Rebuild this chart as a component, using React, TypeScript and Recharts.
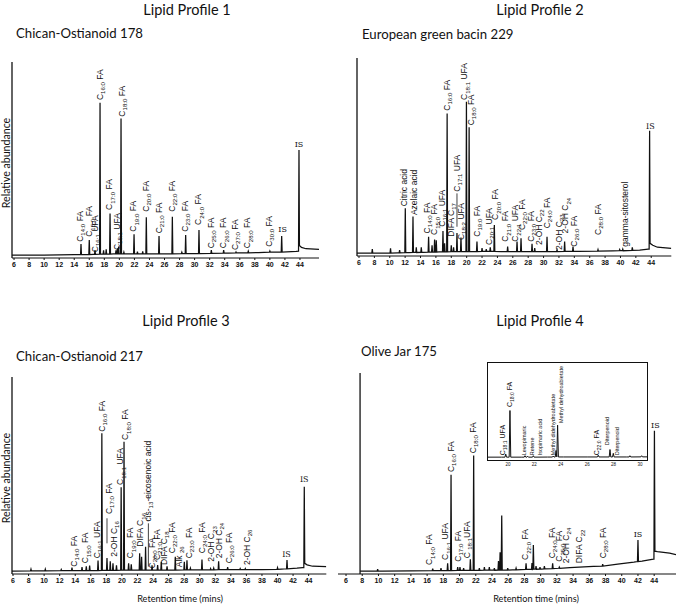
import { ComposedChart, Line, Scatter, XAxis, YAxis, ReferenceLine } from 'recharts'

// ---- shared ----
const TICKS = [6, 8, 10, 12, 14, 16, 18, 20, 22, 24, 26, 28, 30, 32, 34, 36, 38, 40, 42, 44]
const INSET_TICKS = [20, 22, 24, 26, 28, 30]

type Peak = [number, number, number, number?] // rt, apex, foot, right foot
type Lbl = [number, number, string] // rt, label bottom, text (_{..} = subscript)

// ---- Lipid Profile 1 ----
const p1Base: [number, number][] = [[5.73, 0], [10, 0], [14, 0.2], [16.5, 0.4], [19.2, 0.6], [22.8, 0.6], [26, 0.7], [29.5, 0.8], [34.5, 1], [38.5, 1.3], [43.5, 1.9], [44.2, 4], [44.8, 3.3], [46.53, 3]]
const p1Peaks: Peak[] = [
  [14.9, 5.7, 0.2], [16.0, 7.8, 0.3], [16.76, 2.6, 0.4], [17.43, 78.9, 0.5], [17.9, 2.5, 0.5], [18.25, 3, 0.5],
  [18.76, 21.6, 0.5], [19.55, 2.5, 0.6], [19.75, 3.5, 0.6], [19.9, 4.5, 0.6], [20.22, 70.8, 0.6], [20.6, 1.5, 0.6],
  [21.95, 10.8, 0.6], [22.4, 1.8, 0.6], [23.1, 2, 0.6], [23.58, 19.6, 0.6], [25.27, 9.9, 0.7], [27.04, 19.9, 0.7],
  [28.3, 1.5, 0.8], [28.81, 10.4, 0.8], [30.58, 13, 0.8], [32.22, 2.6, 0.9], [33.86, 2.6, 1], [35.5, 1.6, 1.1],
  [37.13, 2, 1.2], [40.0, 2.1, 1.5], [41.57, 9.9, 1.6], [43.87, 54.4, 2, 5],
]
const p1Labels: Lbl[] = [
  [14.77, 6.9, 'C_{14:0} FA'], [16.0, 9.5, 'C_{15:0} FA'], [16.76, 1.5, 'C_{16:1} UFA'], [17.43, 80.3, 'C_{16:0} FA'],
  [18.66, 23.4, 'C_{17:0} FA'], [19.64, 2.6, 'C_{18:1} UFA'], [20.31, 71.7, 'C_{18:0} FA'], [21.86, 12.1, 'C_{19:0} FA'],
  [23.54, 22.5, 'C_{20:0} FA'], [25.27, 11.3, 'C_{21:0} FA'], [27.0, 22.5, 'C_{22:0} FA'], [28.72, 12.1, 'C_{23:0} FA'],
  [30.49, 15.6, 'C_{24:0} FA'], [32.18, 3.5, 'C_{25:0} FA'], [33.81, 3.5, 'C_{26:0} FA'], [35.37, 2.6, 'C_{27:0} FA'],
  [37.0, 3.5, 'C_{28:0} FA'], [39.84, 4.3, 'C_{30:0} FA'],
]
const p1Is: [number, number][] = [[41.7, 12.1], [43.87, 55.8]]

// ---- Lipid Profile 2 ----
const p2Base: [number, number][] = [[5.74, 0], [9, 0], [11, 0.1], [12.5, 0.2], [14.4, 0.4], [16.4, 0.6], [19.6, 0.8], [22.2, 0.9], [24.5, 0.8], [27.6, 0.8], [30, 0.8], [34.5, 0.9], [39, 1.1], [42.5, 1.5], [43.6, 2], [44.2, 4], [44.8, 3], [46.61, 2.4]]
const p2Peaks: Peak[] = [
  [7.73, 2, 0], [10.1, 2.5, 0], [11.28, 1.5, 0.1], [12.02, 23, 0.2], [13.02, 18.7, 0.3], [13.45, 3, 0.3], [14.1, 3, 0.4],
  [15.05, 8.4, 0.5], [15.5, 4, 0.5], [15.83, 7, 0.5], [16.05, 6.5, 0.5], [16.92, 11.3, 0.6], [17.13, 5, 0.6],
  [17.46, 71.6, 0.6], [18.0, 4, 0.7], [18.3, 3, 0.7], [18.74, 10.3, 0.7], [19.26, 8, 0.8], [19.97, 77.6, 0.8],
  [20.32, 64.5, 0.8], [21.34, 5.9, 0.8], [22.0, 2.5, 0.9], [22.55, 2, 0.9], [23.07, 3, 0.9], [23.6, 14.4, 0.9],
  [25.33, 3.3, 0.8], [26.55, 5.9, 0.8], [27.07, 7.6, 0.8], [28.5, 4.7, 0.8], [28.85, 2.5, 0.8], [30.45, 8.4, 0.8],
  [31.75, 1.6, 0.8], [32.74, 5.9, 0.9], [33.83, 3.3, 0.9], [37.08, 1.8, 1], [39.9, 1.8, 1.2], [40.3, 2, 1.2],
  [41.54, 3, 1.4], [43.79, 62.7, 2, 5],
]
const p2Labels: Lbl[] = [
  [11.89, 24, 'Citric acid'], [13.1, 19.5, 'Azelaic acid'], [14.84, 10.1, 'C_{14:0} FA'], [15.79, 9.3, 'C_{15:0} FA'],
  [16.79, 13.5, 'C_{16:1} UFA'], [17.44, 73, 'C_{16:0} FA'], [17.96, 8.4, 'DIFA C_{17}'], [18.74, 31.5, 'C_{17:1} UFA'],
  [19.26, 6.7, 'C_{18:2} UFA'], [19.69, 78.5, 'C_{18:1} UFA'], [20.56, 65.5, 'C_{18:0} FA'], [21.34, 8.4, 'C_{19:0} FA'],
  [22.85, 4.2, 'C_{20:1} UFA'], [23.72, 17, 'C_{20:0} FA'], [25.02, 5.8, 'C_{21:0} FA'], [26.33, 5.8, 'C_{22:1} UFA'],
  [27.2, 11.8, 'C_{22:0} FA'], [28.36, 5.8, 'C_{23:0} FA'], [29.36, 4.2, '2-OH C_{22}'], [30.45, 12.7, 'C_{24:0} FA'],
  [31.96, 1.6, '2-OH C_{23}'], [32.83, 10.1, '2-OH C_{24}'], [33.91, 3.3, 'C_{26:0} FA'], [37.08, 9.3, 'C_{28:0} FA'],
  [40.54, 3.3, 'gamma-sitosterol'],
]
const p2Is: [number, number][] = [[43.88, 63.5]]
const p2Leads: [number, number, number][] = [[18.74, 30.6, 13.5]]

// ---- Lipid Profile 3 ----
const p3Base: [number, number][] = [[5.87, 0], [9, 0.1], [12.8, 0.2], [16.4, 0.3], [21.7, 0.5], [26, 0.5], [29.5, 0.6], [34.5, 0.7], [38, 0.8], [40.5, 1], [42.5, 1.5], [43.2, 1.8], [43.8, 3.2], [44.5, 2.5], [46.27, 2.3]]
const p3Peaks: Peak[] = [
  [8.31, 1, 0.1], [10.15, 1, 0.1], [12.2, 0.8, 0.2], [13.58, 1.8, 0.2], [14.87, 2, 0.2], [15.42, 2.5, 0.3],
  [15.85, 2.8, 0.3], [16.93, 5.5, 0.3], [17.42, 71, 0.4], [18.08, 6.7, 0.4], [18.5, 5, 0.4], [18.85, 4, 0.4],
  [19.3, 3, 0.4], [19.9, 43.2, 0.5], [20.27, 66.7, 0.5], [20.86, 4, 0.5], [21.2, 3.5, 0.5], [22.28, 9.2, 0.5],
  [22.53, 7.4, 0.5], [23.04, 12.5, 0.5], [23.87, 3, 0.5], [24.59, 3.1, 0.5], [25.06, 4.8, 0.5], [25.8, 2.5, 0.5],
  [26.86, 7.4, 0.5], [28.02, 4.8, 0.6], [28.36, 5.6, 0.6], [28.8, 1.5, 0.6], [30.29, 6, 0.6], [31.4, 1.3, 0.6],
  [31.8, 1.5, 0.6], [32.43, 5, 0.7], [33.59, 2, 0.7], [35.2, 1.3, 0.7], [35.86, 1.3, 0.7], [40.0, 1.8, 0.9],
  [41.22, 5.7, 1.2], [43.44, 43.5, 1.8, 4],
]
const p3Labels: Lbl[] = [
  [13.79, 2.3, 'C_{14:0} FA'], [15.29, 4, 'C_{15:0} FA'], [16.8, 6.6, 'C_{16:1} UFA'], [17.44, 71.8, 'C_{16:0} FA'],
  [18.29, 29.4, 'C_{17:0} FA'], [18.93, 7.4, '2-OH C_{16}'], [19.79, 44.4, 'C_{18:1} UFA'], [20.43, 67.5, 'C_{18:0} FA'],
  [21.08, 6.6, 'C_{19:0} FA'], [22.36, 12.6, 'DIFA C_{16}'], [23.3, 25.5, 'cis-_{13}-eicosenoic acid'],
  [23.87, 1.4, 'C_{20:0} FA'], [24.51, 5.7, 'C_{21:0} FA'], [25.36, 3.1, 'DIFA C_{18}'], [26.44, 9.2, 'C_{22:0} FA'],
  [27.29, 2, 'Alk _{26}'], [28.57, 6.6, 'C_{23:0} FA'], [30.29, 9.2, 'C_{24:0} FA'], [31.49, 4.8, '2-OH C_{23}'],
  [32.43, 6.6, '2-OH C_{24}'], [33.71, 4, 'C_{26:0} FA'], [36.07, 3.1, '2-OH C_{26}'],
]
const p3Is: [number, number][] = [[41.16, 7.4], [43.44, 46]]
const p3Leads: [number, number, number][] = [[18.08, 27.2, 14.3], [23.4, 24.6, 2.3]]

// ---- Lipid Profile 4 ----
const p4Base: [number, number][] = [[7.73, 0], [10.5, 0], [14, 0.1], [17.3, 0.2], [20.2, 0.3], [23.4, 0.4], [26.5, 0.6], [30.1, 1], [33.6, 1.7], [36.5, 2.3], [39.5, 3.5], [41.5, 4.5], [42.5, 5], [43.9, 6], [44.4, 9.8], [45.9, 9], [46.69, 8.3]]
const p4Peaks: Peak[] = [
  [9.9, 1, 0], [16.69, 1.2, 0.2], [17.71, 1.5, 0.2], [18.53, 3.9, 0.2], [18.95, 48.6, 0.2], [19.77, 2, 0.3],
  [20.05, 2, 0.3], [20.5, 1.5, 0.3], [21.33, 5.9, 0.3], [21.74, 58.3, 0.3], [22.44, 1.5, 0.3], [23.06, 2, 0.4],
  [23.67, 2, 0.4], [24.29, 1.5, 0.4], [24.8, 5, 0.5], [25.0, 9.5, 0.5], [25.2, 28, 0.5], [25.94, 1.5, 0.5],
  [26.97, 1.5, 0.6], [28.2, 3.9, 0.8], [28.93, 4, 0.8], [29.1, 13.1, 0.9], [29.43, 2.5, 0.9], [29.92, 2, 1],
  [30.46, 2.5, 1.1], [31.48, 3.9, 1.2], [32.3, 2, 1.4], [37.65, 3.5, 2.5], [42.0, 15.7, 4.8], [44.03, 70.8, 6, 10],
]
const p4Labels: Lbl[] = [
  [16.27, 3, 'C_{14:0} FA'], [18.25, 5.6, 'C_{16:1} UFA'], [18.95, 50, 'C_{16:0} FA'], [19.77, 4.7, 'C_{17:0} FA'],
  [20.88, 6.4, 'C _{18:1}UFA'], [21.62, 59.5, 'C_{18:0} FA'], [28.1, 5.6, 'C_{22:0} FA'], [31.4, 6.4, 'C_{24:0} FA'],
  [32.3, 4.7, 'C_{25:0} FA'], [33.13, 3.9, '2-OH C_{24}'], [34.77, 3.9, 'DIFA C_{22}'], [37.65, 6.4, 'C_{28:0} FA'],
]
const p4Is: [number, number][] = [[42.0, 17.3], [44.15, 72.2]]

// ---- Lipid Profile 4 inset ----
const insetBase: [number, number][] = [[18.41, 0], [19.5, 0], [21, 0], [23, 0.1], [24.2, 0.2], [26, 0.2], [29, 0.2], [30.61, 0.3]]
const insetPeaks: Peak[] = [
  [19.83, 3.2, 0], [20.15, 49, 0], [21.29, 1.5, 0], [21.49, 1, 0], [21.92, 1.5, 0], [23.43, 1.2, 0.1],
  [23.64, 7, 0.2], [23.76, 33.6, 0.2], [26.84, 2, 0.2], [27.73, 8, 0.2], [27.98, 4, 0.2], [29.24, 1.5, 0.2], [30.13, 1.5, 0.3],
]
const insetFaLabels: Lbl[] = [[19.55, 2, 'C_{18:1} UFA'], [20.15, 52.6, 'C_{18:0} FA'], [26.74, 2, 'C_{22:0} FA']]
const insetLabels: Lbl[] = [
  [21.21, 2, 'Levopimaric'], [21.82, 2, 'Retene'], [22.42, 2, 'Isopimaric acid'], [23.41, 2, 'Methyl didehydroabietate'],
  [24.02, 35.8, 'Methyl dehydroabietate'], [27.5, 12.6, 'Diterpenoid'], [28.26, 2, 'Diterpenoid'],
]

const INK = '#111'
const SANS = 'Liberation Sans, Arial, sans-serif'
const TITLE_FONT = 'Lato, "Open Sans", sans-serif'

function buildTrace(base: [number, number][], peaks: Peak[]) {
  const pts = base.map(([t, v]) => ({ t, v }))
  peaks.forEach(([t, top, foot, footR]) => {
    pts.push({ t: t - 0.06, v: foot }, { t, v: top }, { t: t + 0.06, v: footR ?? foot })
  })
  return pts.sort((a, b) => a.t - b.t)
}

function splitSub(s: string) {
  const out: { s: string; sub: boolean }[] = []
  s.split(/(_\{[^}]*\})/).forEach((p) => {
    if (!p) return
    if (p.startsWith('_{')) out.push({ s: p.slice(2, -1), sub: true })
    else out.push({ s: p, sub: false })
  })
  return out
}

const rotLabel = (fs: number) => (props: any) => {
  const { cx, cy, payload } = props
  if (cx == null || cy == null) return <g />
  const x = cx + fs * 0.36
  const sh = fs * 0.28
  let prevSub = false
  return (
    <text x={x} y={cy} transform={`rotate(-90 ${x} ${cy})`} fontSize={fs} fontFamily={SANS} fill={INK}>
      {splitSub(payload.s).map((p, i) => {
        const dy = p.sub ? (prevSub ? 0 : sh) : prevSub ? -sh : 0
        prevSub = p.sub
        return (
          <tspan key={i} dy={dy} fontSize={p.sub ? fs * 0.72 : fs}>
            {p.s}
          </tspan>
        )
      })}
    </text>
  )
}

const isLabel = (props: any) => {
  const { cx, cy } = props
  if (cx == null || cy == null) return <g />
  return (
    <text x={cx} y={cy} textAnchor="middle" fontSize={8} fontFamily="DejaVu Serif, serif" fill={INK}>
      IS
    </text>
  )
}

type PanelProps = {
  x: number
  y: number
  w: number
  h: number
  domain: [number, number]
  yLine: number
  base: [number, number][]
  peaks: Peak[]
  labels: Lbl[]
  isPos: [number, number][]
  leads?: [number, number, number][]
}

const ML = 8
const MR = 8
const MT = 16
const XH = 22

function Panel({ x, y, w, h, domain, yLine, base, peaks, labels, isPos, leads = [] }: PanelProps) {
  const trace = buildTrace(base, peaks)
  const labelRows = labels.map(([t, v, s]) => ({ t, v, s }))
  const isRows = isPos.map(([t, v]) => ({ t, v }))
  return (
    <div style={{ position: 'absolute', left: x - ML, top: y - MT }}>
      <ComposedChart width={w + ML + MR} height={h + MT + XH} data={trace} margin={{ top: MT, right: MR, left: ML, bottom: 0 }}>
        <XAxis
          dataKey="t"
          type="number"
          domain={domain}
          allowDataOverflow
          ticks={TICKS}
          interval={0}
          height={XH}
          tickSize={2}
          tickMargin={2}
          axisLine={{ stroke: INK, strokeWidth: 1.2 }}
          tickLine={{ stroke: INK }}
          tick={{ fontSize: 7, fontWeight: 700, fill: INK, fontFamily: SANS }}
        />
        <YAxis dataKey="v" type="number" domain={[-1.5, 100]} allowDataOverflow hide />
        <ReferenceLine segment={[{ x: yLine, y: -1.5 }, { x: yLine, y: 100 }]} stroke={INK} strokeWidth={1.3} ifOverflow="visible" />
        {leads.map(([t, a, b], i) => (
          <ReferenceLine key={i} segment={[{ x: t, y: a }, { x: t, y: b }]} stroke={INK} strokeWidth={0.8} ifOverflow="visible" />
        ))}
        <Line dataKey="v" type="linear" stroke={INK} strokeWidth={1.25} dot={false} activeDot={false} isAnimationActive={false} />
        <Scatter data={labelRows} dataKey="v" shape={rotLabel(8.5)} isAnimationActive={false} />
        <Scatter data={isRows} dataKey="v" shape={isLabel} isAnimationActive={false} />
      </ComposedChart>
    </div>
  )
}

function Inset() {
  const trace = buildTrace(insetBase, insetPeaks)
  const fa = insetFaLabels.map(([t, v, s]) => ({ t, v, s }))
  const small = insetLabels.map(([t, v, s]) => ({ t, v, s }))
  const IM = 4
  return (
    <>
      <div style={{ position: 'absolute', left: 487, top: 362, width: 161, height: 99, border: `1px solid ${INK}`, boxSizing: 'border-box', background: '#fff' }} />
      <div style={{ position: 'absolute', left: 487 - IM, top: 362 - IM }}>
        <ComposedChart width={161 + 2 * IM} height={98 + IM + 10} data={trace} margin={{ top: IM, right: IM, left: IM, bottom: 0 }}>
          <XAxis
            dataKey="t"
            type="number"
            domain={[18.41, 30.61]}
            allowDataOverflow
            ticks={INSET_TICKS}
            interval={0}
            height={10}
            tickSize={1}
            tickMargin={2}
            axisLine={false}
            tickLine={{ stroke: INK }}
            tick={{ fontSize: 4.5, fill: INK, fontFamily: SANS }}
          />
          <YAxis dataKey="v" type="number" domain={[-3, 100]} allowDataOverflow hide />
          <Line dataKey="v" type="linear" stroke={INK} strokeWidth={1} dot={false} activeDot={false} isAnimationActive={false} />
          <Scatter data={fa} dataKey="v" shape={rotLabel(7)} isAnimationActive={false} />
          <Scatter data={small} dataKey="v" shape={rotLabel(5.5)} isAnimationActive={false} />
        </ComposedChart>
      </div>
    </>
  )
}

function Txt({ x, y, size, children, rotate = 0, align = 'center' }: { x: number; y: number; size: number; children: any; rotate?: number; align?: 'center' | 'left' }) {
  const tx = align === 'center' ? '-50%' : '0'
  return (
    <div
      style={{
        position: 'absolute',
        left: x,
        top: y,
        transform: `translate(${tx}, -50%) rotate(${rotate}deg)`,
        whiteSpace: 'nowrap',
        lineHeight: 1.2,
        fontSize: size,
        fontFamily: TITLE_FONT,
        color: INK,
      }}
    >
      {children}
    </div>
  )
}

export default function App() {
  return (
    <div style={{ position: 'absolute', left: 0, top: 0, width: 676, height: 605, overflow: 'hidden', background: '#fff' }}>
      <Txt x={187} y={10} size={14.5}>Lipid Profile 1</Txt>
      <Txt x={540} y={10} size={14.5}>Lipid Profile 2</Txt>
      <Txt x={186} y={321} size={14.5}>Lipid Profile 3</Txt>
      <Txt x={540} y={321} size={14.5}>Lipid Profile 4</Txt>

      <Txt x={16} y={34} size={13.2} align="left">Chican-Ostianoid 178</Txt>
      <Txt x={362} y={35} size={13.2} align="left">European green bacin 229</Txt>
      <Txt x={16} y={357} size={13.2} align="left">Chican-Ostianoid 217</Txt>
      <Txt x={361} y={352} size={13.2} align="left">Olive Jar 175</Txt>

      <Txt x={6} y={163} size={10.6} rotate={-90}>Relative abundance</Txt>
      <Txt x={6} y={478} size={10.6} rotate={-90}>Relative abundance</Txt>
      <Txt x={180} y={599} size={9.2}>Retention time (mins)</Txt>
      <Txt x={536} y={599} size={9.2}>Retention time (mins)</Txt>

      <Panel x={12} y={62} w={307} h={196} domain={[5.73, 46.53]} yLine={5.73} base={p1Base} peaks={p1Peaks} labels={p1Labels} isPos={p1Is} />
      <Panel x={356.7} y={58} w={314.3} h={198} domain={[5.74, 46.61]} yLine={5.74} base={p2Base} peaks={p2Peaks} labels={p2Labels} isPos={p2Is} leads={p2Leads} />
      <Panel x={11.7} y={377} w={314.3} h={197} domain={[5.87, 46.27]} yLine={5.87} base={p3Base} peaks={p3Peaks} labels={p3Labels} isPos={p3Is} leads={p3Leads} />
      <Panel x={338} y={373} w={338} h={201} domain={[5.01, 46.69]} yLine={7.73} base={p4Base} peaks={p4Peaks} labels={p4Labels} isPos={p4Is} />
      <Inset />
    </div>
  )
}
